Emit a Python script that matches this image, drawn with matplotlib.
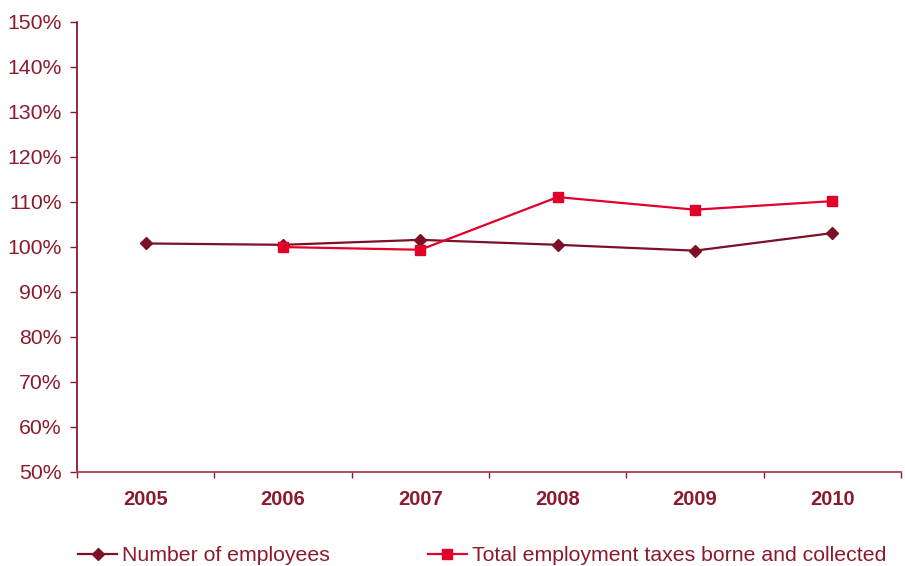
import matplotlib.pyplot as plt
from matplotlib.ticker import FuncFormatter

# Index values (%) by year
years = ['2005', '2006', '2007', '2008', '2009', '2010']
employees = [100.7, 100.4, 101.5, 100.4, 99.1, 103.0]
tax_years = ['2006', '2007', '2008', '2009', '2010']
employment_taxes = [99.9, 99.3, 111.0, 108.2, 110.1]
y_ticks = [50, 60, 70, 80, 90, 100, 110, 120, 130, 140, 150]

text_col = '#8c1a2e'
emp_col = '#7d1026'
tax_col = '#e2002a'

plt.rcParams['font.family'] = ['Liberation Sans', 'DejaVu Sans']

fig = plt.figure(figsize=(9.05, 5.66), dpi=100)
ax = fig.add_axes([0.085, 0.1666, 0.9106, 0.7954])

x_emp = [years.index(y) for y in years]
x_tax = [years.index(y) for y in tax_years]

ax.plot(x_emp, employees, color=emp_col, lw=1.6, marker='D', ms=6.5,
        label='Number of employees', zorder=3)
ax.plot(x_tax, employment_taxes, color=tax_col, lw=1.6, marker='s', ms=7.5,
        label='Total employment taxes borne and collected', zorder=4)

ax.set_ylim(50, 150)
ax.set_yticks(y_ticks)
ax.yaxis.set_major_formatter(FuncFormatter(lambda v, p: f'{v:.0f}%'))
ax.set_xlim(-0.5, len(years) - 0.5)

# year labels centred in each band, ticks on band edges
ax.set_xticks([i - 0.5 for i in range(len(years) + 1)])
ax.set_xticklabels([])
ax.set_xticks(range(len(years)), minor=True)
ax.set_xticklabels(years, minor=True, fontsize=14.5, fontweight='bold',
                   color=text_col)
ax.tick_params(axis='x', which='minor', length=0, pad=13)
ax.tick_params(axis='x', which='major', length=4, width=1, color=text_col)
ax.tick_params(axis='y', length=5, width=1, color=text_col,
               labelsize=15.3, labelcolor=text_col, pad=6)

for s in ['top', 'right']:
    ax.spines[s].set_visible(False)
ax.spines['left'].set_color(text_col)
ax.spines['left'].set_linewidth(1.3)
ax.spines['bottom'].set_color('#a8404f')
ax.spines['bottom'].set_linewidth(1.3)

leg = fig.legend(loc='center left', bbox_to_anchor=(0.0862, 0.018), ncol=2,
                 frameon=False, fontsize=15.3, handlelength=1.85,
                 handletextpad=0.22, columnspacing=4.6,
                 borderpad=0, borderaxespad=0)
for t in leg.get_texts():
    t.set_color(text_col)

fig.savefig('out.png', dpi=100)
